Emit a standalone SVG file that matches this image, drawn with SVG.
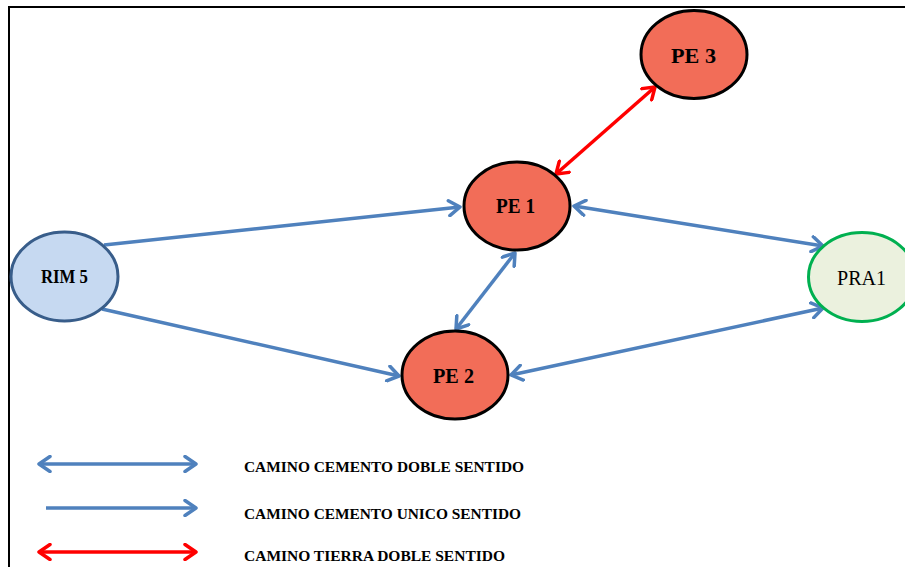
<svg xmlns="http://www.w3.org/2000/svg" width="905" height="567" viewBox="0 0 905 567">
<style>
.node{stroke-width:3}
.pe{fill:#f26d58;stroke:#000}
.lbl{font-family:"Liberation Serif","DejaVu Serif",serif;font-weight:bold;font-size:20px;text-anchor:middle;fill:#000}
.blue{stroke:#4f81bd;stroke-width:3.5;fill:none}
.red{stroke:#ff0000;stroke-width:3.5;fill:none}
.leg{font-family:"Liberation Serif","DejaVu Serif",serif;font-weight:bold;font-size:15px;fill:#000}
</style>
<defs>
<marker id="ab" viewBox="-13 -9 15 18" markerWidth="15" markerHeight="18" refX="0" refY="0" orient="auto-start-reverse" markerUnits="userSpaceOnUse">
<path d="M-11,-7.5 L0,0 L-11,7.5" fill="none" stroke="#4f81bd" stroke-width="3.5" stroke-linecap="round" stroke-linejoin="round"/>
</marker>
<marker id="ar" viewBox="-13 -9 15 18" markerWidth="15" markerHeight="18" refX="0" refY="0" orient="auto-start-reverse" markerUnits="userSpaceOnUse">
<path d="M-11,-7.5 L0,0 L-11,7.5" fill="none" stroke="#ff0000" stroke-width="3.5" stroke-linecap="round" stroke-linejoin="round"/>
</marker>
</defs>
<rect width="905" height="567" fill="#fff"/>
<path d="M9,567 L9,7 L905,7" fill="none" stroke="#000" stroke-width="2"/>
<g id="connectors">
<line class="blue" x1="104" y1="245" x2="460" y2="207" marker-end="url(#ab)"/>
<line class="blue" x1="102" y1="309" x2="399" y2="376" marker-end="url(#ab)"/>
<line class="blue" x1="574" y1="206" x2="823" y2="246" marker-start="url(#ab)" marker-end="url(#ab)"/>
<line class="blue" x1="511" y1="375" x2="823" y2="308" marker-start="url(#ab)" marker-end="url(#ab)"/>
<line class="blue" x1="515" y1="253" x2="456" y2="329" marker-start="url(#ab)" marker-end="url(#ab)"/>
<line class="red" x1="556" y1="174" x2="655" y2="87" marker-start="url(#ar)" marker-end="url(#ar)"/>
</g>
<g id="pe3"><ellipse class="node pe" cx="694" cy="54.5" rx="53" ry="44"/><text class="lbl" x="693.5" y="62.5" textLength="45" lengthAdjust="spacingAndGlyphs">PE  3</text></g>
<g id="pe1"><ellipse class="node pe" cx="517" cy="206" rx="53" ry="44"/><text class="lbl" x="515.5" y="213" textLength="39" lengthAdjust="spacingAndGlyphs">PE 1</text></g>
<g id="pe2"><ellipse class="node pe" cx="455" cy="375" rx="53" ry="44"/><text class="lbl" x="453.5" y="383" textLength="41" lengthAdjust="spacingAndGlyphs">PE 2</text></g>
<g id="rim5"><ellipse class="node" cx="64.5" cy="276.5" rx="53.5" ry="44.5" fill="#c6d9f1" stroke="#385d8a"/><text class="lbl" x="64.5" y="283" textLength="47" lengthAdjust="spacingAndGlyphs" style="font-size:19px">RIM 5</text></g>
<g id="pra1"><ellipse class="node" cx="862" cy="277" rx="53.5" ry="44.5" fill="#ebf1de" stroke="#00b050"/><text class="lbl" x="861.5" y="285" textLength="49" lengthAdjust="spacingAndGlyphs" style="font-weight:normal;font-size:22px">PRA1</text></g>
<g id="legend">
<line class="blue" x1="39" y1="464" x2="196" y2="464" marker-start="url(#ab)" marker-end="url(#ab)"/>
<line class="blue" x1="46" y1="508" x2="196" y2="508" marker-end="url(#ab)"/>
<line class="red" x1="39" y1="552" x2="196" y2="552" marker-start="url(#ar)" marker-end="url(#ar)"/>
<text class="leg" x="244" y="471.5" textLength="280" lengthAdjust="spacingAndGlyphs">CAMINO CEMENTO DOBLE SENTIDO</text>
<text class="leg" x="244" y="518.5" textLength="277" lengthAdjust="spacingAndGlyphs">CAMINO CEMENTO UNICO SENTIDO</text>
<text class="leg" x="244" y="560.5" textLength="261" lengthAdjust="spacingAndGlyphs">CAMINO TIERRA DOBLE SENTIDO</text>
</g>
</svg>
